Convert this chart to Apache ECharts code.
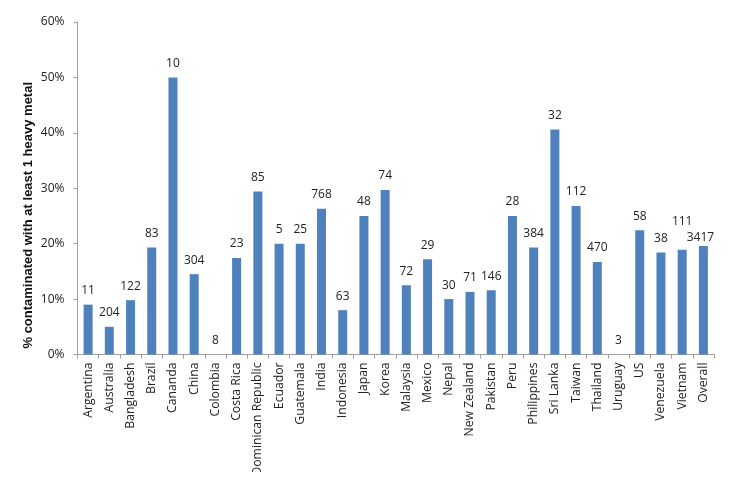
<!DOCTYPE html>
<html><head><meta charset="utf-8">
<style>html,body{margin:0;padding:0;background:#fff}#c{width:743px;height:484px}</style>
<script src="https://cdn.jsdelivr.net/npm/echarts@6/dist/echarts.min.js"></script>
</head><body><div id="c"></div>
<script>
const categories = ["Argentina","Australia","Bangladesh","Brazil","Cananda","China","Colombia","Costa Rica","Dominican Republic","Ecuador","Guatemala","India","Indonesia","Japan","Korea","Malaysia","Mexico","Nepal","New Zealand","Pakistan","Peru","Philippines","Sri Lanka","Taiwan","Thailand","Uruguay","US","Venezuela","Vietnam","Overall"];
const percentContaminated = [9,5,9.8,19.3,50,14.5,0,17.4,29.4,20,20,26.3,8,25,29.7,12.5,17.2,10,11.3,11.6,25,19.3,40.6,26.8,16.7,0,22.4,18.4,18.9,19.6];
const sampleSizes = [11,204,122,83,10,304,8,23,85,5,25,768,63,48,74,72,29,30,71,146,28,384,32,112,470,3,58,38,111,3417];
const font = '"Open Sans", sans-serif';
const labelOverrides = {Vietnam:{offset:[0,-14]}, Overall:{offset:[-3,6]}};
const chart = echarts.init(document.getElementById('c'), null, {renderer:'canvas'});
chart.setOption({
  animation:false,
  backgroundColor:'#fff',
  grid:{left:77.5,right:29,top:22,bottom:129.5},
  xAxis:{type:'category',data:categories,
    axisLine:{lineStyle:{color:'#a0a0a0',width:1}},
    axisTick:{show:true,length:4,lineStyle:{color:'#a0a0a0'},interval:0},
    axisLabel:{rotate:90,interval:0,color:'#222',fontFamily:font,fontSize:12.2,margin:8}
  },
  yAxis:{type:'value',min:0,max:60,interval:10,
    name:'% contaminated with at least 1 heavy metal',nameLocation:'middle',nameGap:43,nameMoveOverlap:false,
    nameRotate:90,nameTextStyle:{fontFamily:'"Liberation Sans", sans-serif',fontWeight:'bold',fontSize:13,color:'#111',padding:[0,54,0,0]},
    axisLine:{show:true,lineStyle:{color:'#a0a0a0'}},
    axisTick:{show:true,length:4,lineStyle:{color:'#a0a0a0'}},
    splitLine:{show:false},
    axisLabel:{formatter:'{value}%',color:'#222',fontFamily:font,fontSize:12,margin:13}
  },
  graphic:[{type:'rect',left:0,top:472,shape:{width:743,height:12},style:{fill:'#fff'},z:100}],
  series:[{type:'bar',barWidth:9,
    data:percentContaminated.map((v,i)=>{
      const o=labelOverrides[categories[i]];
      return o?{value:v,label:o}:{value:v};
    }),
    itemStyle:{color:'#4f81bd'},
    label:{show:true,position:'top',distance:8,color:'#222',fontFamily:font,fontSize:12,
      formatter:p=>String(sampleSizes[p.dataIndex])}
  }]
});
</script></body></html>
